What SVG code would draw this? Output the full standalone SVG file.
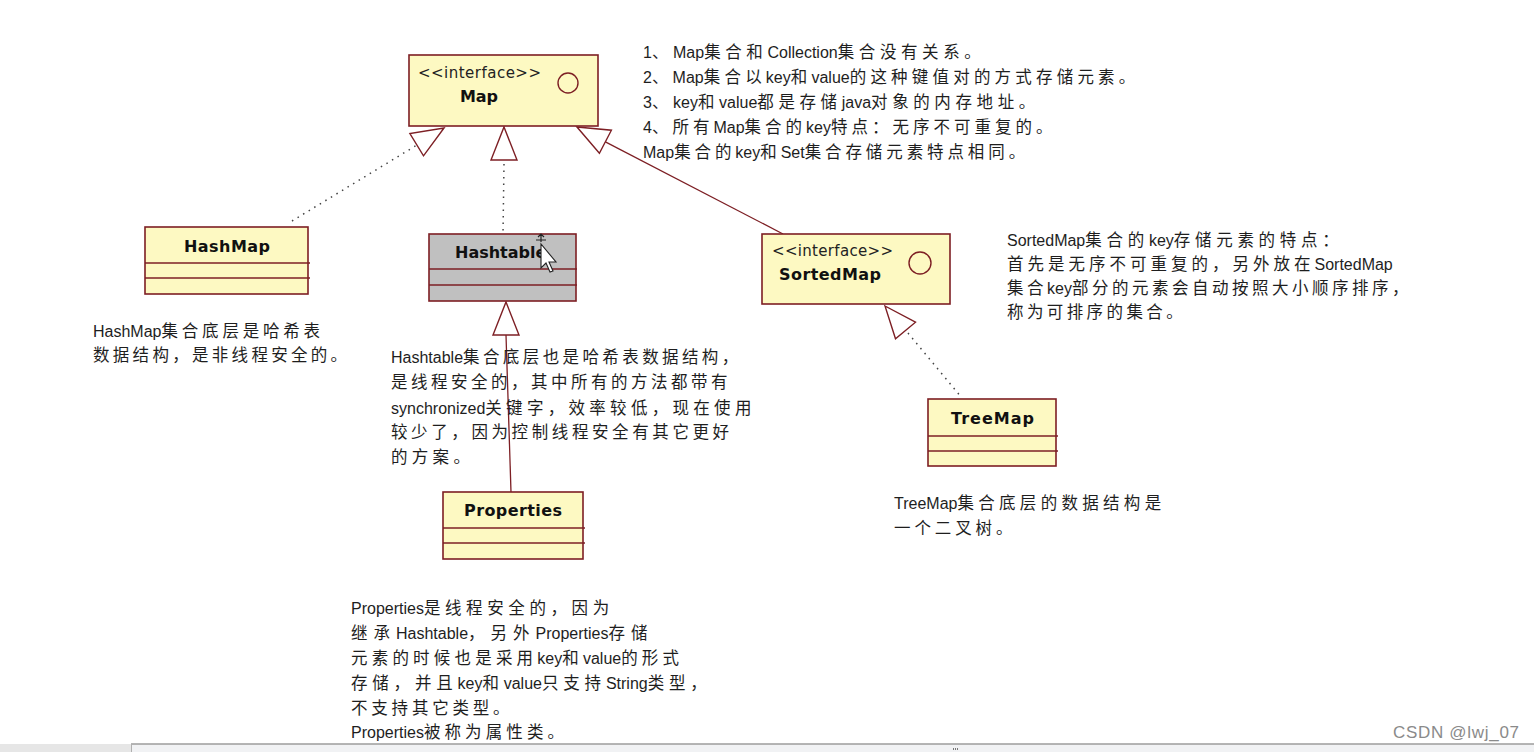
<svg xmlns="http://www.w3.org/2000/svg" width="1534" height="752" viewBox="0 0 1534 752">
<style>
.box{fill:#fdf9c2;stroke:#7d1f24;stroke-width:1.6}
.gray{fill:#c0c0c0;stroke:#7d1f24;stroke-width:1.6}
.div{stroke:#7d1f24;stroke-width:1.4;fill:none}
.lbl{font-family:"DejaVu Sans",Verdana,sans-serif;font-weight:bold;font-size:16px;fill:#111}
.st{font-family:"DejaVu Sans",Verdana,sans-serif;font-size:15px;fill:#222}
.ic{fill:none;stroke:#7d1f24;stroke-width:1.4}
.n{font-family:"Liberation Sans","Noto Sans CJK SC",sans-serif;font-size:16px;fill:#1e1e1e;--ls:4.5px}
.c{font-family:"Noto Sans CJK SC",sans-serif;font-size:16.5px;letter-spacing:var(--ls)}
.solid{stroke:#7d1f24;stroke-width:1.3;fill:none}
.dot{stroke:#444;stroke-width:1.5;stroke-dasharray:1.5 5;fill:none}
.tri{fill:#fff;stroke:#7d1f24;stroke-width:1.4}
</style>
<rect width="1534" height="752" fill="#fff"/>

<g id="connectors">
  <line class="dot" x1="292" y1="221" x2="417" y2="145"/>
  <polygon class="tri" points="444,128 423.5,155.8 409.9,133.6"/>
  <line class="dot" x1="504" y1="164" x2="503" y2="234"/>
  <polygon class="tri" points="504,127 517,160 491,160"/>
  <line class="solid" x1="605.4" y1="141.8" x2="783" y2="234"/>
  <polygon class="tri" points="577,127 611.4,130.2 599.4,153.3"/>
  <line class="solid" x1="506" y1="335" x2="511" y2="492"/>
  <polygon class="tri" points="506,302 519,335 493,335"/>
  <line class="dot" x1="908" y1="333" x2="962" y2="398"/>
  <polygon class="tri" points="885,306 915.5,322.2 895.5,338.8"/>
</g>

<g id="map">
  <rect class="box" x="409" y="55" width="189" height="71"/>
  <text class="st" x="418" y="78" textLength="123">&lt;&lt;interface&gt;&gt;</text>
  <text class="lbl" x="460" y="102" textLength="38">Map</text>
  <circle class="ic" cx="568" cy="83" r="10"/>
</g>

<g id="hashmap">
  <rect class="box" x="145" y="227" width="163" height="67"/>
  <line class="div" x1="145" y1="263" x2="310" y2="263"/>
  <line class="div" x1="145" y1="278" x2="310" y2="278"/>
  <text class="lbl" x="184" y="252" textLength="86">HashMap</text>
</g>

<g id="hashtable">
  <rect class="gray" x="429" y="234" width="147" height="67"/>
  <line class="div" x1="429" y1="269" x2="577" y2="269"/>
  <line class="div" x1="429" y1="285" x2="577" y2="285"/>
  <text class="lbl" x="455" y="258">Hashtable</text>
  <g id="cursor">
    <path d="M541,234 L541,242 M538,237 L541,234 L544,237 M536,240 L546,240" stroke="#222" stroke-width="1.2" fill="none"/>
    <path d="M541,244 L541,268 L546,263 L550,272 L553,271 L549,262 L556,262 Z" fill="#fff" stroke="#222" stroke-width="1.1"/>
  </g>
</g>

<g id="sortedmap">
  <rect class="box" x="762" y="234" width="188" height="70"/>
  <text class="st" x="772" y="256" textLength="121">&lt;&lt;interface&gt;&gt;</text>
  <text class="lbl" x="779" y="280" textLength="102">SortedMap</text>
  <circle class="ic" cx="920" cy="263" r="11"/>
</g>

<g id="treemap">
  <rect class="box" x="928" y="399" width="128" height="67"/>
  <line class="div" x1="928" y1="436" x2="1058" y2="436"/>
  <line class="div" x1="928" y1="451" x2="1058" y2="451"/>
  <text class="lbl" x="951" y="424" textLength="83">TreeMap</text>
</g>

<g id="properties">
  <rect class="box" x="443" y="492" width="140" height="67"/>
  <line class="div" x1="443" y1="528" x2="585" y2="528"/>
  <line class="div" x1="443" y1="543" x2="585" y2="543"/>
  <text class="lbl" x="464" y="516" textLength="98">Properties</text>
</g>

<g id="note-map">
  <text class="n" x="643" y="58" style="--ls:4.6px">1<tspan class="c">、</tspan>Map<tspan class="c">集合和</tspan>Collection<tspan class="c">集合没有关系。</tspan></text>
  <text class="n" x="643" y="83" style="--ls:4.2px">2<tspan class="c">、</tspan>Map<tspan class="c">集合以</tspan>key<tspan class="c">和</tspan>value<tspan class="c">的这种键值对的方式存储元素。</tspan></text>
  <text class="n" x="643" y="108" style="--ls:4.6px">3<tspan class="c">、</tspan>key<tspan class="c">和</tspan>value<tspan class="c">都是存储</tspan>java<tspan class="c">对象的内存地址。</tspan></text>
  <text class="n" x="643" y="133" style="--ls:4.0px">4<tspan class="c">、所有</tspan>Map<tspan class="c">集合的</tspan>key<tspan class="c">特点：无序不可重复的。</tspan></text>
  <text class="n" x="643" y="158" style="--ls:3.9px">Map<tspan class="c">集合的</tspan>key<tspan class="c">和</tspan>Set<tspan class="c">集合存储元素特点相同。</tspan></text>
</g>

<g id="note-sortedmap">
  <text class="n" x="1007" y="246" style="--ls:4.7px">SortedMap<tspan class="c">集合的</tspan>key<tspan class="c">存储元素的特点：</tspan></text>
  <text class="n" x="1007" y="270" style="--ls:4px"><tspan class="c">首先是无序不可重复的，另外放在</tspan>SortedMap</text>
  <text class="n" x="1007" y="294" style="--ls:3.5px"><tspan class="c">集合</tspan>key<tspan class="c">部分的元素会自动按照大小顺序排序，</tspan></text>
  <text class="n" x="1007" y="318" style="--ls:3.4px"><tspan class="c">称为可排序的集合。</tspan></text>
</g>

<g id="note-hashmap">
  <text class="n" x="93" y="337" style="--ls:3.8px">HashMap<tspan class="c">集合底层是哈希表</tspan></text>
  <text class="n" x="93" y="361" style="--ls:3.3px"><tspan class="c">数据结构，是非线程安全的。</tspan></text>
</g>

<g id="note-hashtable">
  <text class="n" x="391" y="363" style="--ls:3.4px">Hashtable<tspan class="c">集合底层也是哈希表数据结构，</tspan></text>
  <text class="n" x="391" y="388" style="--ls:3.5px"><tspan class="c">是线程安全的，其中所有的方法都带有</tspan></text>
  <text class="n" x="391" y="414" style="--ls:4.3px">synchronized<tspan class="c">关键字，效率较低，现在使用</tspan></text>
  <text class="n" x="391" y="438" style="--ls:3.6px"><tspan class="c">较少了，因为控制线程安全有其它更好</tspan></text>
  <text class="n" x="391" y="463" style="--ls:4.3px"><tspan class="c">的方案。</tspan></text>
</g>

<g id="note-treemap">
  <text class="n" x="894" y="509" style="--ls:4.3px">TreeMap<tspan class="c">集合底层的数据结构是</tspan></text>
  <text class="n" x="894" y="534" style="--ls:3.9px"><tspan class="c">一个二叉树。</tspan></text>
</g>

<g id="note-properties">
  <text class="n" x="351" y="614" style="--ls:4.6px">Properties<tspan class="c">是线程安全的，因为</tspan></text>
  <text class="n" x="351" y="639" style="--ls:6px"><tspan class="c">继承</tspan>Hashtable<tspan class="c">，另外</tspan>Properties<tspan class="c">存储</tspan></text>
  <text class="n" x="351" y="664" style="--ls:4.2px"><tspan class="c">元素的时候也是采用</tspan>key<tspan class="c">和</tspan>value<tspan class="c">的形式</tspan></text>
  <text class="n" x="351" y="689" style="--ls:4.8px"><tspan class="c">存储，并且</tspan>key<tspan class="c">和</tspan>value<tspan class="c">只支持</tspan>String<tspan class="c">类型，</tspan></text>
  <text class="n" x="351" y="714" style="--ls:3.8px"><tspan class="c">不支持其它类型。</tspan></text>
  <text class="n" x="351" y="738" style="--ls:4.1px">Properties<tspan class="c">被称为属性类。</tspan></text>
</g>

<g id="footer">
  <text x="1393" y="738" textLength="126" font-family="Liberation Sans,sans-serif" font-size="17" fill="#8a8a8a">CSDN @lwj_07</text>
  <rect x="0" y="744" width="131" height="8" fill="#e6e6e6"/>
  <rect x="131" y="744" width="1403" height="8" fill="#f1f2f4"/>
  <line x1="131" y1="744" x2="1534" y2="744" stroke="#9c9c9c" stroke-width="1.5"/>
  <line x1="131.5" y1="744" x2="131.5" y2="752" stroke="#b0b0b0" stroke-width="1"/>
  <g fill="#777"><rect x="953" y="748" width="1" height="2"/><rect x="955" y="748" width="1" height="2"/><rect x="957" y="748" width="1" height="2"/></g>
</g>
</svg>
